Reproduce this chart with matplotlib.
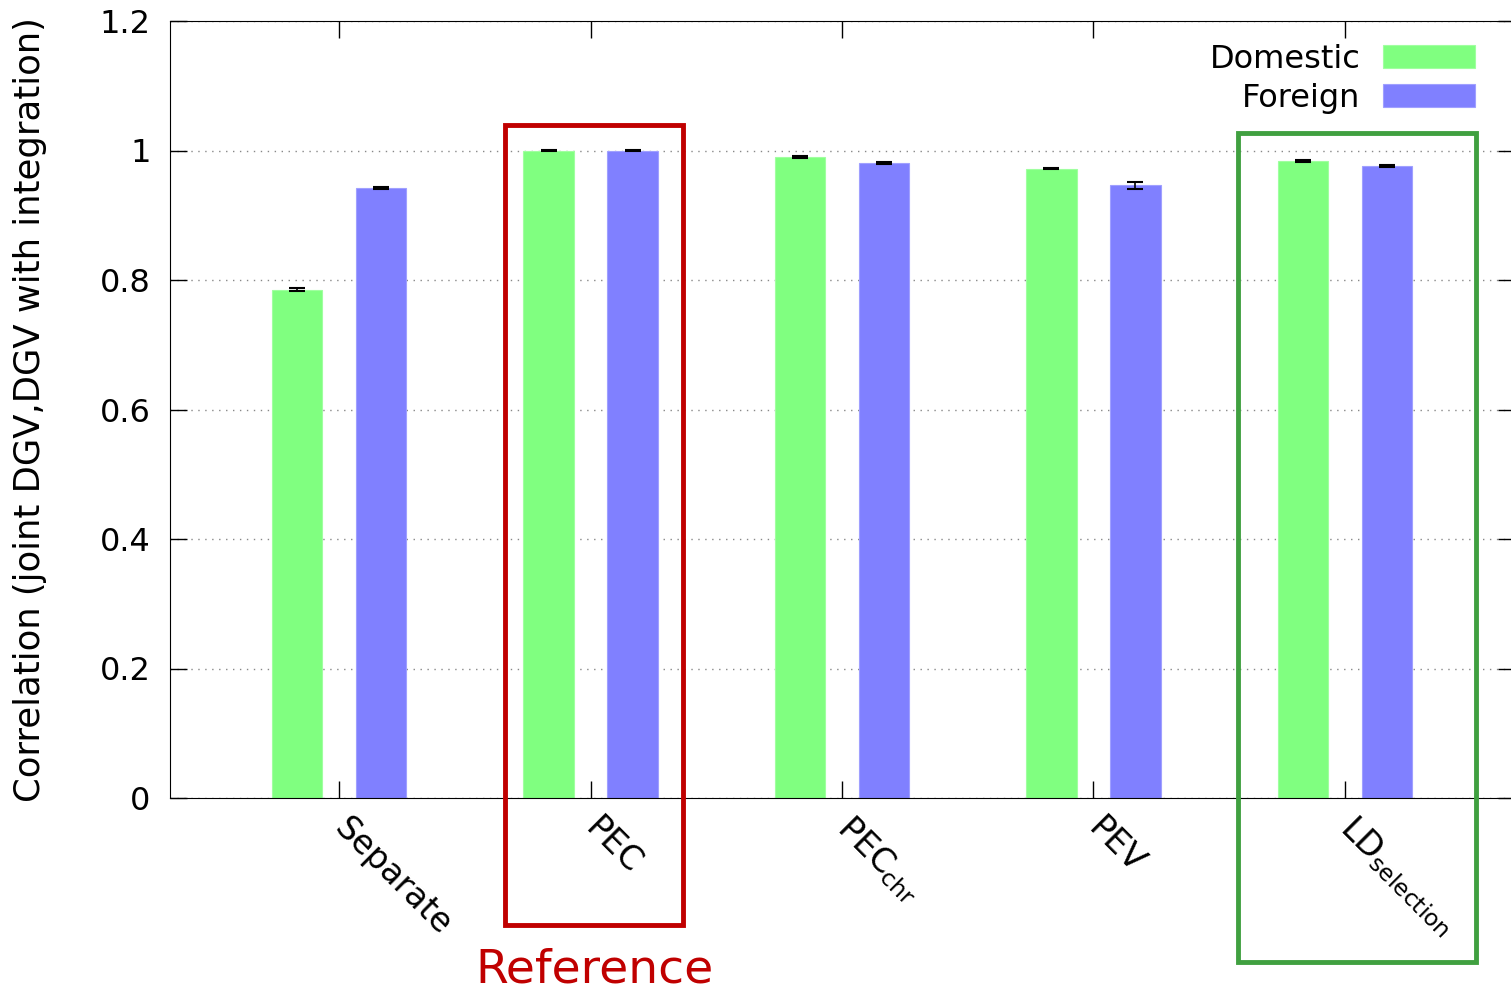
import matplotlib.pyplot as plt
from matplotlib.patches import Rectangle
import numpy as np

categories = ['Separate', 'PEC', r'PEC$_{\mathregular{chr}}$', 'PEV', r'LD$_{\mathregular{selection}}$']
domestic = [0.785, 1.000, 0.990, 0.972, 0.984]
domestic_err = [0.002, 0.0005, 0.001, 0.001, 0.001]
foreign = [0.942, 1.000, 0.981, 0.946, 0.976]
foreign_err = [0.001, 0.0005, 0.002, 0.006, 0.001]

plt.rcParams['font.family'] = 'DejaVu Sans'
plt.rcParams['mathtext.fontset'] = 'dejavusans'

fig = plt.figure(figsize=(15.11, 9.91), dpi=100)
ax = fig.add_axes([170 / 1511, 1 - 798 / 991, 1345 / 1511, 777 / 991])

x = np.arange(len(categories))
ax.bar(x - 0.167, domestic, 0.2, color='#80ff80', edgecolor='#a0ffa0', linewidth=0.8,
       label='Domestic', zorder=2)
ax.bar(x + 0.167, foreign, 0.2, color='#8080ff', edgecolor='#a0a0ff', linewidth=0.8,
       label='Foreign', zorder=2)
ax.errorbar(x - 0.167, domestic, yerr=domestic_err, fmt='none', ecolor='black',
            capsize=6, elinewidth=1.2, capthick=1.5, zorder=3)
ax.errorbar(x + 0.167, foreign, yerr=foreign_err, fmt='none', ecolor='black',
            capsize=6, elinewidth=1.2, capthick=1.5, zorder=3)

ax.set_xlim(-0.672, 4.676)
ax.set_ylim(0, 1.2)
ax.set_yticks([0, 0.2, 0.4, 0.6, 0.8, 1, 1.2])
ax.set_yticklabels(['0', '0.2', '0.4', '0.6', '0.8', '1', '1.2'])
ax.set_xticks(x)
ax.set_xticklabels(categories, rotation=-45, ha='left', va='center', rotation_mode='anchor')
ax.tick_params(axis='both', direction='in', length=12, width=1, labelsize=23,
               top=True, right=True, pad=10)
ax.tick_params(axis='y', pad=14)
ax.tick_params(axis='x', labelsize=24, pad=18)
ax.yaxis.grid(True, linestyle=(0, (1, 4)), color='#888888', linewidth=1, zorder=0)
ax.set_axisbelow(True)
ax.set_ylabel('Correlation (joint DGV,DGV with integration)', fontsize=25.5, labelpad=38)

ax.legend(loc='upper right', frameon=False, fontsize=23, markerfirst=False,
          handlelength=2.9, handleheight=0.7, handletextpad=0.7, labelspacing=0.25,
          bbox_to_anchor=(0.992, 1.008))

fig.add_artist(Rectangle((505 / 1511, 1 - 925 / 991), 178 / 1511, 800 / 991,
                         transform=fig.transFigure, fill=False, edgecolor='#c00000', linewidth=3.5))
fig.add_artist(Rectangle((1238 / 1511, 1 - 962 / 991), 238 / 1511, 829 / 991,
                         transform=fig.transFigure, fill=False, edgecolor='#40a040', linewidth=3.5))
fig.text(594 / 1511, 1 - 970 / 991, 'Reference', color='#c00000', fontsize=34,
         ha='center', va='center')

fig.savefig('out.png', dpi=100)
